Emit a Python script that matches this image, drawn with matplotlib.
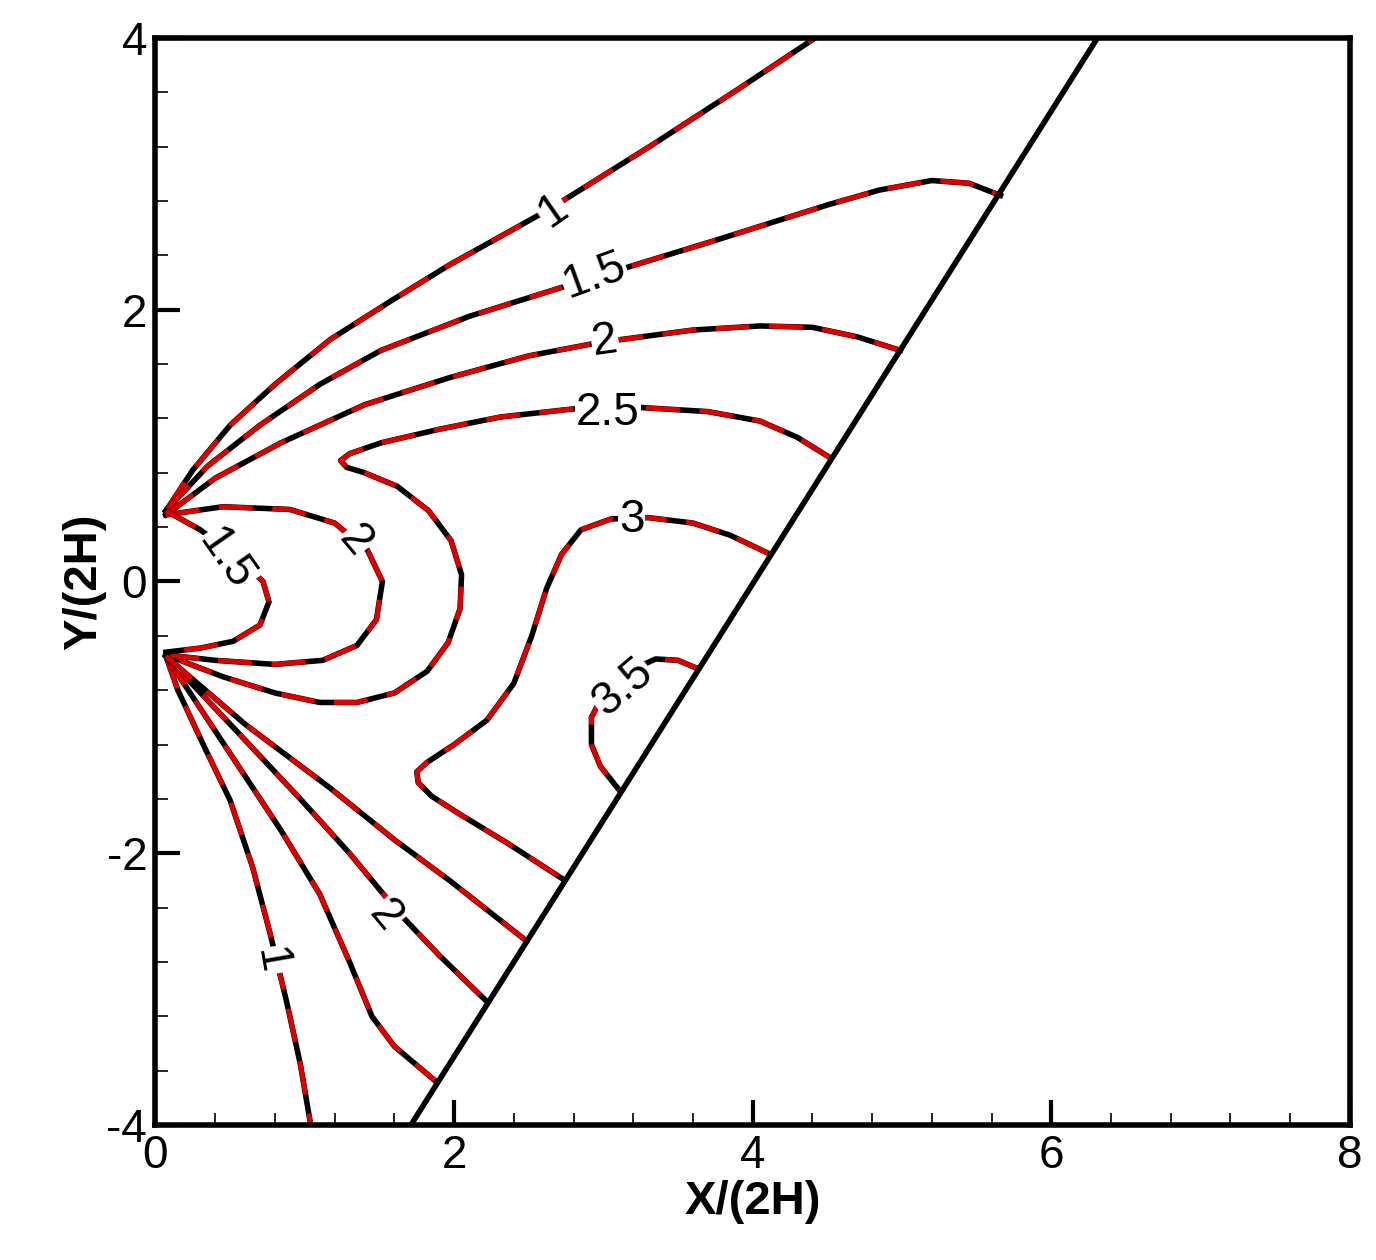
import numpy as np
import matplotlib.pyplot as plt
from matplotlib.ticker import MultipleLocator

# wedge surface
wedge_x = [1.71, 6.31]
wedge_y = [-4.0, 4.0]

# contour lines (x, y)
c1_up_x = [0.07, 0.25, 0.5, 0.8, 1.17, 1.6, 1.97, 2.64, 3.31, 3.9, 4.42]
c1_up_y = [0.52, 0.82, 1.15, 1.45, 1.78, 2.08, 2.33, 2.74, 3.2, 3.62, 4.0]
c15_up_x = [0.07, 0.35, 0.70, 1.1, 1.51, 2.1, 2.71, 3.78, 4.5, 4.85, 5.2, 5.45, 5.66]
c15_up_y = [0.52, 0.85, 1.15, 1.45, 1.70, 1.95, 2.16, 2.52, 2.77, 2.88, 2.95, 2.93, 2.84]
c2_up_x = [0.07, 0.4, 0.84, 1.4, 1.97, 2.5, 2.98, 3.6, 4.05, 4.4, 4.7, 4.99]
c2_up_y = [0.49, 0.76, 1.02, 1.30, 1.50, 1.66, 1.76, 1.85, 1.88, 1.87, 1.80, 1.70]
c25_x = [4.52, 4.3, 4.05, 3.7, 3.25, 2.8, 2.31, 1.9, 1.51, 1.3, 1.24, 1.28, 1.4, 1.62,
         1.83, 1.98, 2.05, 2.04, 1.96, 1.82, 1.6, 1.35, 1.10, 0.8, 0.45, 0.07]
c25_y = [0.91, 1.06, 1.18, 1.25, 1.28, 1.27, 1.21, 1.12, 1.02, 0.94, 0.89, 0.84, 0.80, 0.70,
         0.52, 0.30, 0.05, -0.2, -0.45, -0.66, -0.82, -0.89, -0.89, -0.82, -0.70, -0.54]
c3_x = [4.10, 3.85, 3.6, 3.3, 3.05, 2.85, 2.72, 2.62, 2.52, 2.40, 2.22, 2.0, 1.82, 1.75,
        1.76, 1.85, 2.05, 2.35, 2.73]
c3_y = [0.21, 0.34, 0.43, 0.47, 0.46, 0.38, 0.20, -0.05, -0.40, -0.75, -1.02, -1.20, -1.33,
        -1.40, -1.48, -1.58, -1.72, -1.92, -2.19]
c35_x = [3.63, 3.5, 3.35, 3.15, 3.0, 2.92, 2.92, 2.98, 3.11]
c35_y = [-0.64, -0.58, -0.57, -0.67, -0.83, -1.0, -1.2, -1.36, -1.54]
c2_loop_x = [0.07, 0.45, 0.90, 1.2, 1.42, 1.52, 1.48, 1.35, 1.12, 0.8, 0.4, 0.07]
c2_loop_y = [0.49, 0.55, 0.53, 0.43, 0.23, 0.0, -0.28, -0.47, -0.58, -0.61, -0.58, -0.54]
c15_loop_x = [0.07, 0.3, 0.55, 0.72, 0.76, 0.70, 0.52, 0.3, 0.07]
c15_loop_y = [0.52, 0.38, 0.18, 0.0, -0.15, -0.32, -0.44, -0.49, -0.52]
c1_lo_x = [0.07, 0.15, 0.32, 0.50, 0.65, 0.77, 0.88, 0.97, 1.04]
c1_lo_y = [-0.55, -0.80, -1.2, -1.61, -2.1, -2.6, -3.1, -3.55, -4.0]
c15_lo_x = [0.07, 0.4, 0.84, 1.1, 1.3, 1.45, 1.6, 1.87]
c15_lo_y = [-0.55, -1.1, -1.83, -2.3, -2.8, -3.2, -3.42, -3.67]
c2_lo_x = [0.07, 0.5, 0.97, 1.3, 1.64, 1.9, 2.21]
c2_lo_y = [-0.55, -1.05, -1.6, -2.0, -2.45, -2.75, -3.08]
c25_lo_x = [0.07, 0.6, 1.17, 1.6, 1.97, 2.48]
c25_lo_y = [-0.55, -1.05, -1.52, -1.9, -2.2, -2.64]

lines = [(c1_up_x, c1_up_y), (c15_up_x, c15_up_y), (c2_up_x, c2_up_y), (c25_x, c25_y),
         (c3_x, c3_y), (c35_x, c35_y), (c2_loop_x, c2_loop_y), (c15_loop_x, c15_loop_y),
         (c1_lo_x, c1_lo_y), (c15_lo_x, c15_lo_y), (c2_lo_x, c2_lo_y), (c25_lo_x, c25_lo_y)]

# labels: text, x, y, rotation
labels = [("1", 2.66, 2.73, 35), ("1.5", 2.94, 2.25, 20), ("2", 3.01, 1.77, 8),
          ("2.5", 3.03, 1.24, 0), ("3", 3.19, 0.45, 0), ("3.5", 3.13, -0.78, 40),
          ("2", 1.34, 0.30, -50), ("1.5", 0.47, 0.16, -55), ("2", 1.54, -2.46, -50),
          ("1", 0.77, -2.79, -80)]


def main():
    plt.rcParams['font.family'] = ['Liberation Sans', 'DejaVu Sans']
    plt.rcParams['axes.unicode_minus'] = False
    fig, ax = plt.subplots(figsize=(13.76, 12.6), dpi=100)
    fig.subplots_adjust(left=0.113, right=0.981, top=0.970, bottom=0.107)

    for xs, ys in lines:
        ax.plot(xs, ys, color="black", lw=4, solid_joinstyle="round")
        ax.plot(xs, ys, color="#dd0000", lw=3.5, dashes=(7, 4))
    ax.plot(wedge_x, wedge_y, color="black", lw=4)

    for t, x, y, r in labels:
        ax.text(x, y, t, fontsize=33, rotation=r, ha="center", va="center",
                bbox=dict(facecolor="white", edgecolor="none", pad=0.5))

    ax.set_xlim(0, 8)
    ax.set_ylim(-4, 4)
    ax.xaxis.set_major_locator(MultipleLocator(2))
    ax.yaxis.set_major_locator(MultipleLocator(2))
    ax.xaxis.set_minor_locator(MultipleLocator(0.4))
    ax.yaxis.set_minor_locator(MultipleLocator(0.4))
    ax.tick_params(which="major", direction="in", length=18, width=3, labelsize=33, pad=6)
    ax.tick_params(which="minor", direction="in", length=9, width=1.2)
    for s in ax.spines.values():
        s.set_linewidth(4)
    ax.set_xlabel("X/(2H)", fontsize=34, fontweight="bold", labelpad=2)
    ax.set_ylabel("Y/(2H)", fontsize=34, fontweight="bold", labelpad=0)
    fig.savefig("out.png")


if __name__ == '__main__':
    main()
